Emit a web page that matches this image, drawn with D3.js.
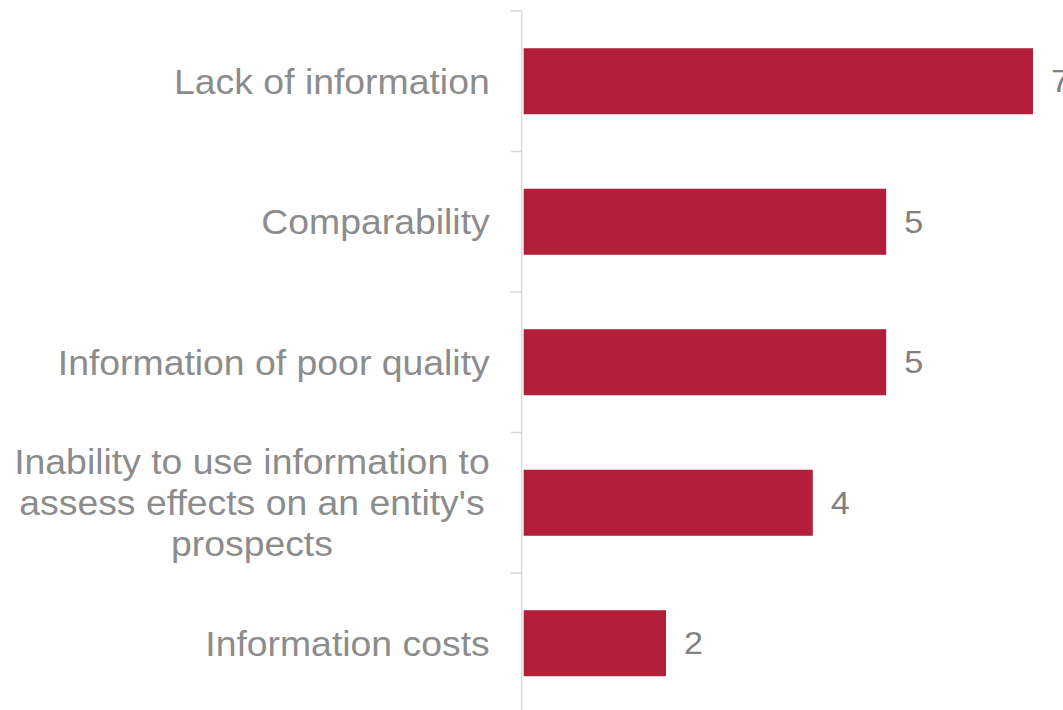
<!DOCTYPE html>
<html>
<head>
<meta charset="utf-8">
<script src="https://cdn.jsdelivr.net/npm/d3@7"></script>
<style>
  html, body { margin: 0; padding: 0; background: #fff; }
  svg { display: block; font-family: "Liberation Sans", Arial, sans-serif; }
</style>
</head>
<body>
<svg id="chart" width="1063" height="710"></svg>
<script>
// data
var categories = [
  "Lack of information",
  "Comparability",
  "Information of poor quality",
  "Inability to use information to\nassess effects on an entity's\nprospects",
  "Information costs"
];
var values = [7, 5, 5, 4, 2];

var svg = d3.select("#chart");
var barColor = "#b31e3a";
var labelColor = "#8c8c8c";
var valueColor = "#808080";
var stretch = 1.068; // reference text is a bit wider than plain Arial

// scales
var x = d3.scaleLinear().domain([0, 7]).range([519.2, 1033]);
var y = d3.scaleBand().domain(categories).range([11, 713.5]).paddingInner(0.53).paddingOuter(0.265);
var axisX = x(0) + 2.5;
var step = y.step();

// axis line + ticks on band boundaries
svg.append("line")
  .attr("x1", axisX).attr("x2", axisX)
  .attr("y1", y.range()[0]).attr("y2", y.range()[1])
  .attr("stroke", "#d9d9d9").attr("stroke-width", 1.5);

var tickYs = categories.map(function (c) { return y(c) - (step - y.bandwidth()) / 2; });
tickYs.push(y.range()[1]);
svg.selectAll(".tick").data(tickYs).enter().append("line")
  .attr("class", "tick")
  .attr("x1", axisX - 11).attr("x2", axisX)
  .attr("y1", function (d) { return d; }).attr("y2", function (d) { return d; })
  .attr("stroke", "#d9d9d9").attr("stroke-width", 1.5);

// bars
var barX = axisX + 2;
svg.selectAll(".bar").data(values).enter().append("rect")
  .attr("class", "bar")
  .attr("x", barX)
  .attr("y", function (d, i) { return y(categories[i]); })
  .attr("width", function (d) { return x(d) - barX; })
  .attr("height", y.bandwidth())
  .attr("fill", barColor);

// value labels
svg.selectAll(".val").data(values).enter().append("text")
  .attr("class", "val")
  .attr("transform", function (d, i) {
    return "translate(" + (x(d) + 18) + "," + (y(categories[i]) + y.bandwidth() / 2) + ") scale(" + stretch + ",1)";
  })
  .attr("dy", "0.35em")
  .attr("font-size", "32px")
  .attr("fill", valueColor)
  .text(function (d) { return d; });

// category labels (multi-line ones centred inside a right-aligned block)
var labelRight = axisX - 32;
var lineH = 41;
categories.forEach(function (c) {
  var lines = c.split("\n");
  var cy = y(c) + y.bandwidth() / 2;
  var g = svg.append("g")
    .attr("transform", "translate(" + labelRight + "," + cy + ") scale(" + stretch + ",1)");
  var texts = lines.map(function (l, i) {
    return g.append("text")
      .attr("y", (i - (lines.length - 1) / 2) * lineH)
      .attr("dy", "0.35em")
      .attr("font-size", "35px")
      .attr("fill", labelColor)
      .text(l);
  });
  if (lines.length == 1) {
    texts[0].attr("x", 0).attr("text-anchor", "end");
  } else {
    var w = d3.max(texts, function (t) { return t.node().getComputedTextLength(); });
    texts.forEach(function (t) {
      t.attr("x", -w / 2).attr("text-anchor", "middle");
    });
  }
});
</script>
</body>
</html>
